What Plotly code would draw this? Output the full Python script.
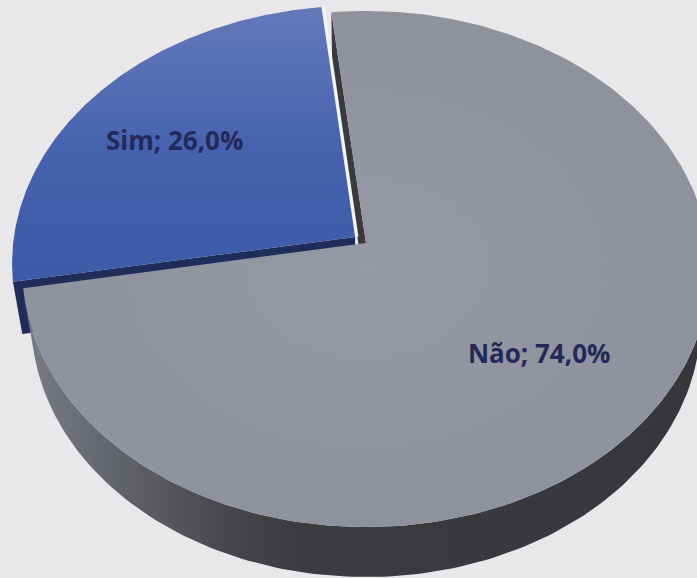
import numpy as np
import plotly.graph_objects as go

# ---- data -------------------------------------------------------------
labels = ["Sim", "Não"]
values = [26.0, 74.0]
pull = [0.04, 0.0]          # explode distance, in pie radii

# ---- 3D pie styling / camera -----------------------------------------
FIRST_SLICE_ANGLE = 260.0   # degrees, clockwise from 12 o'clock
ELEV = np.arcsin(0.747)     # camera elevation
DIST = 6.6                  # camera distance (pie radius = 1)
DEPTH = 0.237               # pie thickness
LABEL_PLACE = [(0.67, 2.0), (0.645, -4.5)]   # (radius, angle shift) per slice

STYLE = [
    dict(  # Sim
        top=dict(type="vertical", colorscale=[[0, "#3b5aa7"], [0.5, "#4763b0"], [1, "#6479ba"]]),
        face="#1f2d5b",
        side=dict(type="horizontal", colorscale=[[0, "#243466"], [1, "#1f2d5b"]]),
    ),
    dict(  # Não
        top=dict(type="radial", colorscale=[[0, "#9699a4"], [1, "#8f919c"]]),
        face="#3a393e",
        side=dict(type="horizontal", colorscale=[
            [0, "#7a7c83"], [0.11, "#66686f"], [0.21, "#56575d"],
            [0.30, "#46464b"], [0.40, "#3c3b40"], [1, "#37363b"]]),
    ),
]
BG = "#e9e7ea"
TEXT_COLOR = "#232a5a"

S, C = np.sin(ELEV), np.cos(ELEV)
CAM = np.array([0.0, -DIST * C, DIST * S])


def project(x, y, z):
    """Perspective projection of world points onto the view plane."""
    x, y, z = np.asarray(x, float), np.asarray(y, float), np.asarray(z, float)
    up = y * S + z * C
    fwd = y * C - z * S
    k = DIST / (DIST + fwd)
    return x * k, up * k


def poly(xs, ys, zs):
    u, v = project(xs, ys, zs)
    return list(u) + [u[0]], list(v) + [v[0]]


total = float(sum(values))
slices = []
a = FIRST_SLICE_ANGLE
for i, val in enumerate(values):
    sweep = 360.0 * val / total
    th0 = np.radians(90.0 - a)
    th1 = np.radians(90.0 - (a + sweep))
    thm = 0.5 * (th0 + th1)
    off = pull[i] * np.array([np.cos(thm), np.sin(thm)])
    slices.append(dict(th0=th0, th1=th1, thm=thm, off=off, label=labels[i], value=val))
    a += sweep


def add_fill(bucket, u, v, color=None, grad=None):
    kw = dict(x=u, y=v, mode="lines", fill="toself", line=dict(width=0),
              hoverinfo="skip", showlegend=False)
    if grad is not None:
        kw["fillgradient"] = grad
    else:
        kw["fillcolor"] = color
    bucket.append(go.Scatter(**kw))


def build_slice(sl):
    ox, oy = sl["off"]
    th = np.linspace(sl["th0"], sl["th1"], 240)
    mx, my = np.cos(sl["thm"]), np.sin(sl["thm"])
    sides = []

    # radial cut faces
    for te in (sl["th0"], sl["th1"]):
        dx, dy = np.cos(te), np.sin(te)
        nx, ny = -dy, dx
        if nx * mx + ny * my > 0:
            nx, ny = -nx, -ny
        px, py = ox + 0.5 * dx, oy + 0.5 * dy
        if nx * (CAM[0] - px) + ny * (CAM[1] - py) > 0:
            u, v = poly([ox, ox + dx, ox + dx, ox],
                        [oy, oy + dy, oy + dy, oy],
                        [0, 0, -DEPTH, -DEPTH])
            sides.append(("face", u, v))

    # curved outer wall (only the part facing the camera)
    cx, cy = np.cos(th), np.sin(th)
    vis = cx * (CAM[0] - ox - cx) + cy * (CAM[1] - oy - cy) > 0
    if vis.sum() > 1:
        tv = th[vis]
        xs = np.concatenate([ox + np.cos(tv), ox + np.cos(tv[::-1])])
        ys = np.concatenate([oy + np.sin(tv), oy + np.sin(tv[::-1])])
        zs = np.concatenate([np.zeros(len(tv)), -DEPTH * np.ones(len(tv))])
        u, v = poly(xs, ys, zs)
        sides.append(("wall", u, v))

    # top face
    xs = np.concatenate([[ox], ox + cx])
    ys = np.concatenate([[oy], oy + cy])
    top = poly(xs, ys, np.zeros(len(xs)))
    return sides, top


sim, nao = slices
sim_sides, sim_top = build_slice(sim)
nao_sides, nao_top = build_slice(nao)

data = []
for kind, u, v in sim_sides:
    if kind == "face":
        add_fill(data, u, v, color=STYLE[0]["face"])
    else:
        add_fill(data, u, v, grad=STYLE[0]["side"])
for kind, u, v in sorted(nao_sides, key=lambda t: t[0] == "face"):
    if kind == "face":
        add_fill(data, u, v, color=STYLE[1]["face"])
    else:
        add_fill(data, u, v, grad=STYLE[1]["side"])

# light bevel along the exposed straight edge of the exploded slice
ox, oy = sim["off"]
eu, ev = project([ox, ox + np.cos(sim["th1"])], [oy, oy + np.sin(sim["th1"])], [0, 0])
data.append(go.Scatter(x=eu + 0.004, y=ev, mode="lines",
                       line=dict(color="#f5f4f7", width=4),
                       hoverinfo="skip", showlegend=False))

add_fill(data, *sim_top, grad=STYLE[0]["top"])
add_fill(data, *nao_top, grad=STYLE[1]["top"])

# data labels
lu, lv, lt = [], [], []
for sl, (r, shift) in zip(slices, LABEL_PLACE):
    t = sl["thm"] + np.radians(shift)
    u, v = project(sl["off"][0] + r * np.cos(t), sl["off"][1] + r * np.sin(t), 0.0)
    lu.append(float(u)); lv.append(float(v))
    lt.append(f"{sl['label']}; {sl['value']:.1f}%".replace(".", ","))
data.append(go.Scatter(x=lu, y=lv, mode="text", text=lt,
                       textfont=dict(family="Open Sans", size=26, color=TEXT_COLOR, weight=700),
                       hoverinfo="skip", showlegend=False))

fig = go.Figure(data=data)

W, H = 697, 578
SCALE = 342.0     # pixels per pie radius
CX, CY = 366.0, 243.0
fig.update_layout(
    width=W, height=H,
    margin=dict(l=0, r=0, t=0, b=0),
    paper_bgcolor=BG, plot_bgcolor=BG,
    xaxis=dict(range=[-CX / SCALE, (W - CX) / SCALE], visible=False, fixedrange=True),
    yaxis=dict(range=[(CY - H) / SCALE, CY / SCALE], visible=False, fixedrange=True),
    showlegend=False,
)
fig.write_html("out.html", config=dict(displayModeBar=False))
